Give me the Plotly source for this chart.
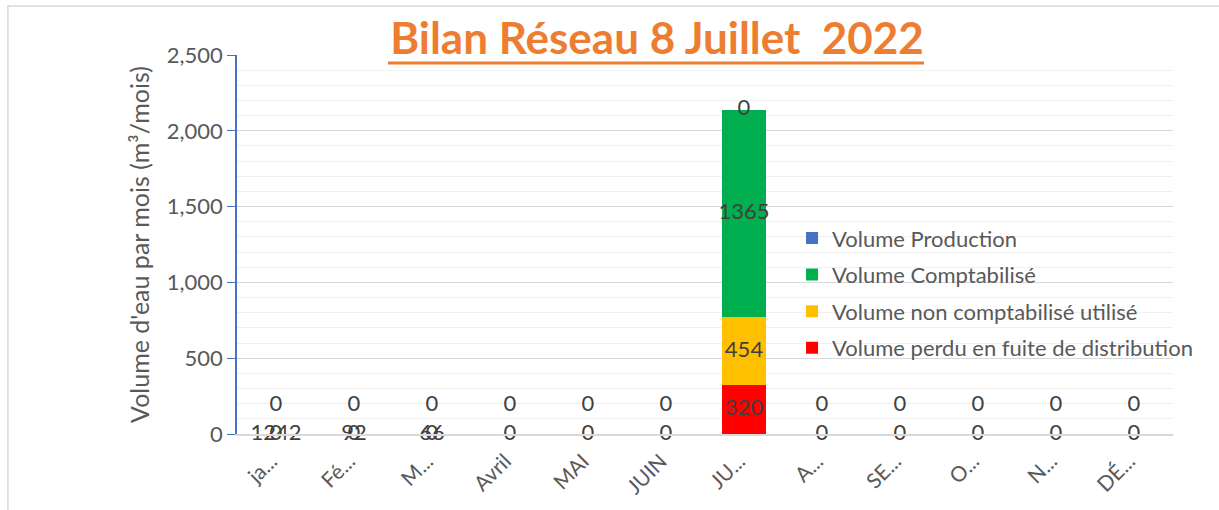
import plotly.graph_objects as go

months = ["ja...", "Fé...", "M...", "Avril", "MAI", "JUIN", "JU...", "A...", "SE...", "O...", "N...", "DÉ..."]
perdu = [0, 0, 0, 0, 0, 0, 320, 0, 0, 0, 0, 0]
non_compta = [0, 0, 0, 0, 0, 0, 454, 0, 0, 0, 0, 0]
compta = [0, 0, 0, 0, 0, 0, 1365, 0, 0, 0, 0, 0]
production = [0, 0, 0, 0, 0, 0, 0, 0, 0, 0, 0, 0]
base_labels = ["1242", "92", "66", "0", "0", "0", None, "0", "0", "0", "0", "0"]
upper_labels = ["0", "0", "0", "0", "0", "0", None, "0", "0", "0", "0", "0"]

series = [
    ("Volume perdu en fuite de distribution", perdu, "#FF0000"),
    ("Volume non comptabilisé utilisé", non_compta, "#FFC000"),
    ("Volume Comptabilisé", compta, "#00B050"),
    ("Volume Production", production, "#4472C4"),
]

FONT = "Lato"
LABEL_COLOR = "#404040"
UPPER_OFFSET = 185

fig = go.Figure()
n = len(series)
for k, (name, vals, col) in enumerate(series):
    fig.add_trace(go.Bar(x=months, y=vals, name=name, legendgroup=f"g{k}", legendrank=n - k,
                         marker=dict(color=col, line=dict(width=0)), hoverinfo="skip"))

# data labels
lx, ly, lt = [], [], []
for i, m in enumerate(months):
    if sum(s[1][i] for s in series) > 0:
        cum = 0
        for name, vals, col in series:
            lx.append(m); ly.append(cum + vals[i] / 2); lt.append(str(vals[i]))
            cum += vals[i]
    else:
        lx.append(m); ly.append(0); lt.append(base_labels[i])
        if base_labels[i] != "0":
            lx.append(m); ly.append(0); lt.append("0")
        lx.append(m); ly.append(UPPER_OFFSET); lt.append(upper_labels[i])

fig.add_trace(go.Scatter(x=lx, y=ly, text=lt, mode="text", showlegend=False, cliponaxis=False,
                         textfont=dict(family=FONT, size=22, color=LABEL_COLOR), hoverinfo="skip"))

fig.update_layout(
    width=1219, height=510,
    margin=dict(l=237, r=46, t=55, b=76),
    barmode="stack", bargap=0.44,
    plot_bgcolor="white", paper_bgcolor="white",
    font=dict(family=FONT, color="#595959"),
    title=dict(text="<b>Bilan Réseau 8 Juillet  2022</b>", x=0.539, xanchor="center",
               y=0.925, yanchor="middle",
               font=dict(family=FONT, size=44, color="#ED7D31")),
    legend=dict(x=0.593, y=0.572, xanchor="left", yanchor="top", traceorder="grouped",
                font=dict(family=FONT, size=22, color="#595959"), itemwidth=30,
                tracegroupgap=5, bgcolor="rgba(0,0,0,0)"),
    showlegend=True,
)

fig.update_xaxes(showline=True, linecolor="#D9D9D9", linewidth=1.5, tickangle=-45,
                 tickfont=dict(family=FONT, size=21, color="#595959"), ticks="",
                 ticklabelshift=-5, ticklabelstandoff=5,
                 showgrid=False, range=[-0.5, 11.5])
fig.update_yaxes(range=[0, 2500], dtick=500, tickformat=",d", showline=True, linecolor="#4472C4",
                 linewidth=1.5, ticks="outside", tickcolor="#4472C4", ticklen=8,
                 tickfont=dict(family=FONT, size=22, color="#595959"),
                 gridcolor="#D9D9D9", gridwidth=1.2, zeroline=False,
                 minor=dict(dtick=100, showgrid=True, gridcolor="#F0F0F0", gridwidth=1, ticks=""),
                 title=dict(text="Volume d'eau par mois (m³/mois)",
                            font=dict(family=FONT, size=25, color="#595959"), standoff=10))

# title underline and chart frame
fig.add_shape(type="line", xref="paper", yref="paper", x0=0.1613, x1=0.734, y0=0.979, y1=0.979,
              line=dict(color="#ED7D31", width=3))
fig.add_shape(type="rect", xref="paper", yref="paper", x0=-0.2447, x1=1.1, y0=-0.3, y1=1.1293,
              line=dict(color="#D9D9D9", width=1.5), layer="below")

fig.write_html("out.html")
